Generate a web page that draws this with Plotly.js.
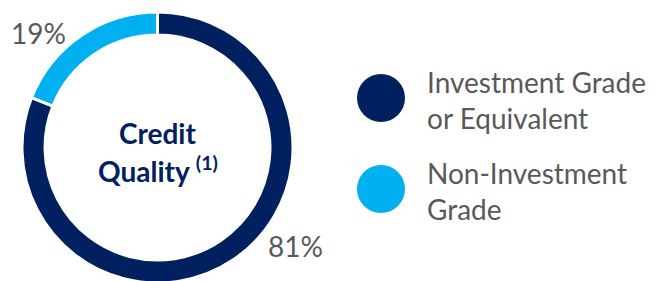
<!DOCTYPE html>
<html>
<head>
<meta charset="utf-8">
<script src="https://cdn.plot.ly/plotly-3.0.1.min.js"></script>
<style>
html,body{margin:0;padding:0;overflow:hidden;background:#fff;}
#chart{width:662px;height:290px;}
</style>
</head>
<body>
<div id="chart"></div>
<script>
const categories = ["Investment Grade<br>or Equivalent", "Non-Investment<br>Grade"];
const values = [81, 19];
const colors = ["#002060", "#00B0F0"];
const centerTitle = ["Credit", "Quality <sup>(1)</sup>"];

const W = 662, H = 290;
const FONT = "Lato, 'Open Sans', sans-serif";
const GREY = "#595959";

const trace = {
  type: "pie",
  values: values,
  labels: categories,
  hole: 0.83,
  sort: false,
  direction: "clockwise",
  rotation: 0,
  textinfo: "none",
  hoverinfo: "none",
  marker: {colors: colors, line: {color: "#ffffff", width: 3}},
  domain: {x: [22 / W, 293 / W], y: [(H - 283) / H, (H - 12) / H]},
  showlegend: false
};

const annotations = [
  {text: values[1] + "%", x: 38 / W, y: 1 - 33 / H},
  {text: values[0] + "%", x: 295 / W, y: 1 - 246 / H}
].map(a => Object.assign({xref: "paper", yref: "paper", showarrow: false,
  xanchor: "center", yanchor: "middle", font: {family: FONT, size: 28, color: GREY}}, a));

annotations.push({text: "<b>" + centerTitle[0] + "</b>", x: 157 / W, y: 1 - 133 / H,
  xref: "paper", yref: "paper", showarrow: false, xanchor: "center", yanchor: "middle",
  font: {family: FONT, size: 28, color: "#002060"}});
annotations.push({text: "<b>" + centerTitle[1] + "</b>", x: 158 / W, y: 1 - 170 / H,
  xref: "paper", yref: "paper", showarrow: false, xanchor: "center", yanchor: "middle",
  font: {family: FONT, size: 28, color: "#002060"}});

const legendY = [98, 189];
const shapes = [];
categories.forEach((c, i) => {
  const cy = legendY[i];
  shapes.push({type: "circle", xref: "paper", yref: "paper",
    x0: 357 / W, x1: 405 / W, y0: 1 - (cy + 24) / H, y1: 1 - (cy - 24) / H,
    fillcolor: colors[i], line: {width: 0}});
  annotations.push({text: c, x: 425 / W, y: 1 - (cy + 2) / H, xref: "paper", yref: "paper",
    showarrow: false, xanchor: "left", yanchor: "middle", align: "left",
    font: {family: FONT, size: 28, color: GREY}});
});

const layout = {
  width: W, height: H,
  margin: {l: 0, r: 0, t: 0, b: 0},
  paper_bgcolor: "#ffffff",
  plot_bgcolor: "#ffffff",
  annotations: annotations,
  shapes: shapes,
  showlegend: false
};

Plotly.newPlot("chart", [trace], layout, {displayModeBar: false, staticPlot: true});
</script>
</body>
</html>
